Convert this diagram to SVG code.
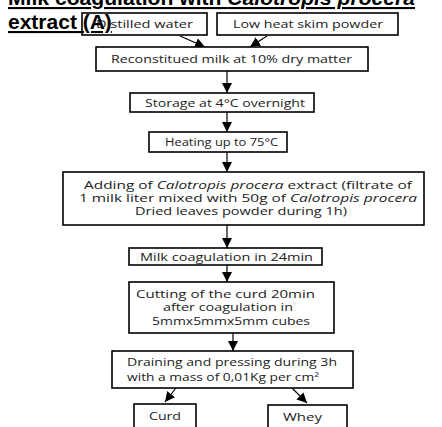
<svg xmlns="http://www.w3.org/2000/svg" width="442" height="427" viewBox="0 0 442 427">
<defs>
<marker id="ah" viewBox="0 0 10 10" refX="10" refY="5" markerWidth="10" markerHeight="10" markerUnits="userSpaceOnUse" orient="auto">
<path d="M0,0 L10,5 L0,10 Z" fill="#000"/>
</marker>
</defs>
<style>
.box{fill:#fff;stroke:#000;stroke-width:1.6}
.t{font-family:"Open Sans","Liberation Sans",sans-serif;font-size:11px;fill:#222}
.c{stroke:#000;stroke-width:1.2;fill:none;marker-end:url(#ah)}
.title{font-family:"Liberation Sans",Arial,sans-serif;font-size:21px;font-weight:bold;fill:#000;text-decoration:underline}
</style>
<rect width="442" height="427" fill="#fff"/>
<g id="connectors">
<line class="c" x1="180" y1="36" x2="205" y2="47"/>
<line class="c" x1="267" y1="36" x2="250" y2="47"/>
<line class="c" x1="227" y1="71" x2="227" y2="93"/>
<line class="c" x1="227" y1="112" x2="227" y2="132"/>
<line class="c" x1="227" y1="152" x2="227" y2="172"/>
<line class="c" x1="227" y1="225" x2="227" y2="248"/>
<line class="c" x1="227" y1="265" x2="227" y2="282"/>
<line class="c" x1="233" y1="333" x2="233" y2="351"/>
<line class="c" x1="176" y1="388" x2="165" y2="402"/>
<line class="c" x1="292" y1="388" x2="307" y2="403"/>
</g>
<g id="n-water"><rect class="box" x="82" y="13" width="125" height="22"/><text class="t" x="96" y="28" textLength="97" lengthAdjust="spacingAndGlyphs">Distilled water</text></g>
<g id="n-powder"><rect class="box" x="217" y="13" width="181" height="22"/><text class="t" x="233" y="28" textLength="150" lengthAdjust="spacingAndGlyphs">Low heat skim powder</text></g>
<g id="n-recon"><rect class="box" x="96" y="47" width="272" height="24"/><text class="t" x="111" y="63" textLength="241" lengthAdjust="spacingAndGlyphs">Reconstitued milk at 10% dry matter</text></g>
<g id="n-storage"><rect class="box" x="130" y="93" width="184" height="19"/><text class="t" x="145" y="106.5" textLength="160" lengthAdjust="spacingAndGlyphs">Storage at 4°C overnight</text></g>
<g id="n-heating"><rect class="box" x="149" y="132" width="138" height="20"/><text class="t" x="165" y="146" textLength="113" lengthAdjust="spacingAndGlyphs">Heating up to 75°C</text></g>
<g id="n-adding"><rect class="box" x="63" y="172" width="361" height="53"/>
<text class="t" x="84" y="189" textLength="328" lengthAdjust="spacingAndGlyphs">Adding of <tspan font-style="italic">Calotropis procera</tspan> extract (filtrate of</text>
<text class="t" x="79" y="202" textLength="338" lengthAdjust="spacingAndGlyphs">1 milk liter mixed with 50g of <tspan font-style="italic">Calotropis procera</tspan></text>
<text class="t" x="135" y="215" textLength="212" lengthAdjust="spacingAndGlyphs">Dried leaves powder during 1h)</text></g>
<g id="n-coag"><rect class="box" x="129" y="248" width="193" height="17"/><text class="t" x="140" y="260.5" textLength="173" lengthAdjust="spacingAndGlyphs">Milk coagulation in 24min</text></g>
<g id="n-cut"><rect class="box" x="129" y="282" width="205" height="51"/>
<text class="t" x="136" y="298" textLength="179" lengthAdjust="spacingAndGlyphs">Cutting of the curd 20min</text>
<text class="t" x="163" y="311" textLength="130" lengthAdjust="spacingAndGlyphs">after coagulation in</text>
<text class="t" x="152" y="325" textLength="158" lengthAdjust="spacingAndGlyphs">5mmx5mmx5mm cubes</text></g>
<g id="n-drain"><rect class="box" x="112" y="351" width="241" height="37"/>
<text class="t" x="127" y="366" textLength="210" lengthAdjust="spacingAndGlyphs">Draining and pressing during 3h</text>
<text class="t" x="127" y="381" textLength="192" lengthAdjust="spacingAndGlyphs">with a mass of 0,01Kg per cm²</text></g>
<g id="n-curd"><rect class="box" x="134" y="404" width="62" height="30"/><text class="t" x="149" y="420" textLength="32" lengthAdjust="spacingAndGlyphs">Curd</text></g>
<g id="n-whey"><rect class="box" x="268" y="405" width="79" height="30"/><text class="t" x="283" y="421" textLength="39" lengthAdjust="spacingAndGlyphs">Whey</text></g>
<g id="title">
<text class="title" x="8" y="5" textLength="407" lengthAdjust="spacingAndGlyphs">Milk coagulation with <tspan font-style="italic">Calotropis procera</tspan></text>
<text class="title" x="8" y="29">extract (A)</text>
</g>
</svg>
